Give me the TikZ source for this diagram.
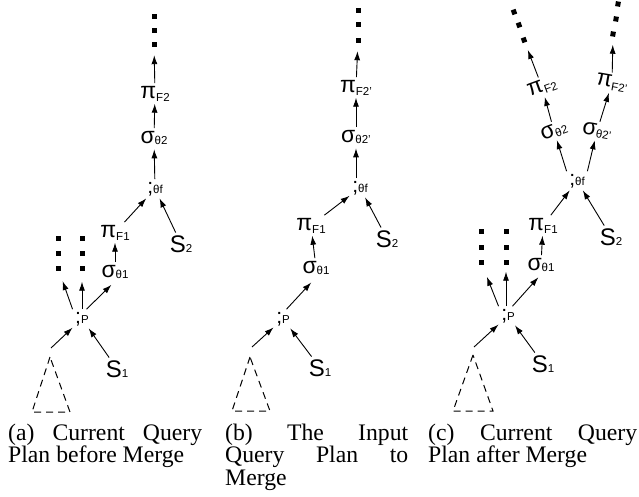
\documentclass[tikz,border=0pt]{standalone}
\usepackage{fontspec}
\setmainfont{Liberation Serif}
\setsansfont{Liberation Sans}
\usetikzlibrary{arrows.meta}
\newcommand\lb[4]{{\fontsize{#1pt}{#1pt}\selectfont #2}\raisebox{-#3pt}{\fontsize{11.5pt}{11.5pt}\selectfont #4}}
\newcommand\pil[1]{\lb{23}{π}{3}{#1}}
\newcommand\sgl[1]{\lb{23}{σ}{1.5}{#1}}
\newcommand\jnl[1]{\lb{21}{;}{0}{#1}}
\newcommand\srl[1]{\lb{24}{S}{0}{#1}}
\begin{document}
\begin{tikzpicture}[x=1pt,y=-1pt,
  lbl/.style={font=\sffamily, inner sep=2.5pt, anchor=base},
  rlbl/.style={font=\sffamily, inner sep=2.5pt, anchor=center},
  sq/.style={fill=black, minimum size=5pt, inner sep=0pt},
  arr/.style={-{Latex[length=9pt,width=6pt]}, line width=0.9pt},
  tri/.style={dash pattern=on 7pt off 5pt, line width=1pt},
  captxt/.style={inner sep=0pt, anchor=base west}
]
\useasboundingbox (0,0) rectangle (639,496);
% ---------------- panel (a)
\node[sq] (aD1) at (154,16) {};
\node[sq] (aD2) at (154,30) {};
\node[sq] (aD3) at (154,44) {};
\node[lbl] (aPF2) at (155,98) {\pil{F2}};
\node[lbl] (aSG2) at (154,143) {\sgl{θ2}};
\node[lbl] (aJ) at (155,193) {\jnl{θf}};
\node[lbl] (aPF1) at (115,237) {\pil{F1}};
\node[lbl] (aS2) at (181,252) {\srl{2}};
\node[lbl] (aSG1) at (115,277) {\sgl{θ1}};
\node[sq] (aL1) at (58,238) {};
\node[sq] (aL2) at (58,253) {};
\node[sq] (aL3) at (58,268) {};
\node[sq] (aM1) at (82,238) {};
\node[sq] (aM2) at (82,253) {};
\node[sq] (aM3) at (82,268) {};
\node[lbl] (aP) at (82,323) {\jnl{P}};
\node[lbl] (aS1) at (117,377) {\srl{1}};
\coordinate (aTa) at (50,357);
\coordinate (aTl) at (32,412);
\coordinate (aTr) at (70,412);
\coordinate (aTt) at (51,348);
\draw[tri] (aTa) -- (aTl) -- (aTr) -- cycle;
\draw[arr, shorten >=8.5pt] (aPF2) -- (aD3);
\draw[arr] (aSG2) -- (aPF2);
\draw[arr, shorten >=2pt] (aJ) -- (aSG2);
\draw[arr] (aPF1) -- (aJ);
\draw[arr] (aS2) -- (aJ);
\draw[arr] (aSG1) -- (aPF1);
\draw[arr, shorten >=11pt] (aP.north west) -- (aL3);
\draw[arr, shorten >=11pt] (aP) -- (aM3);
\draw[arr, shorten >=5pt] (aP.65) -- (aSG1.south);
\draw[arr] (aTt) -- (aP);
\draw[arr] (aS1) -- (aP);
% ---------------- panel (b)
\node[sq] (bD1) at (358,10) {};
\node[sq] (bD2) at (358,24.5) {};
\node[sq] (bD3) at (358,40) {};
\node[lbl] (bPF2) at (356,92) {\pil{F2'}};
\node[lbl] (bSG2) at (356,142) {\sgl{θ2'}};
\node[lbl] (bJ) at (360,192) {\jnl{θf}};
\node[lbl] (bPF1) at (311,230) {\pil{F1}};
\node[lbl] (bS2) at (387,247) {\srl{2}};
\node[lbl] (bSG1) at (316,273) {\sgl{θ1}};
\node[lbl] (bP) at (283,323) {\jnl{P}};
\node[lbl] (bS1) at (320,376) {\srl{1}};
\coordinate (bTa) at (250,357);
\coordinate (bTl) at (232,411);
\coordinate (bTr) at (270,411);
\coordinate (bTt) at (252,347);
\draw[tri] (bTa) -- (bTl) -- (bTr) -- cycle;
\draw[arr, shorten >=8.5pt] (bPF2) -- (bD3);
\draw[arr] (bSG2) -- (bPF2);
\draw[arr, shorten >=2pt] (bJ.north -| bSG2.south) -- (bSG2.south);
\draw[arr] (bPF1) -- (bJ);
\draw[arr] (bS2) -- (bJ);
\draw[arr] (bSG1) -- (bPF1);
\draw[arr, shorten >=7pt] (bP.70) -- (bSG1.south);
\draw[arr] (bTt) -- (bP);
\draw[arr] (bS1) -- (bP);
% ---------------- panel (c)
\node[sq, rotate=20] (cA1) at (514,12) {};
\node[sq, rotate=20] (cA2) at (519,25) {};
\node[sq, rotate=20] (cA3) at (524,40) {};
\node[sq, rotate=-10] (cB1) at (618,4) {};
\node[sq, rotate=-10] (cB2) at (616,19) {};
\node[sq, rotate=-10] (cB3) at (613,34) {};
\node[rlbl, rotate=20] (cPF2L) at (542,87) {\pil{F2}};
\node[rlbl, rotate=20] (cSG2L) at (554,131) {\sgl{θ2}};
\node[rlbl, rotate=-10] (cPF2R) at (612,83) {\pil{F2'}};
\node[rlbl, rotate=-10] (cSG2R) at (597,131) {\sgl{θ2'}};
\node[lbl] (cJ) at (577,185) {\jnl{θf}};
\node[lbl] (cPF1) at (543,230) {\pil{F1}};
\node[lbl] (cS2) at (611,245) {\srl{2}};
\node[lbl] (cSG1) at (541,270) {\sgl{θ1}};
\node[sq] (cL1) at (481,231) {};
\node[sq] (cL2) at (481,247) {};
\node[sq] (cL3) at (481,262) {};
\node[sq] (cM1) at (506,231) {};
\node[sq] (cM2) at (506,247) {};
\node[sq] (cM3) at (506,262) {};
\node[lbl] (cP) at (508,320) {\jnl{P}};
\node[lbl] (cS1) at (543,372) {\srl{1}};
\coordinate (cTa) at (473,355);
\coordinate (cTl) at (453,411);
\coordinate (cTr) at (493,411);
\coordinate (cTt) at (474,347);
\draw[tri] (cTa) -- (cTl) -- (cTr) -- cycle;
\draw[arr, shorten >=8pt] (cPF2L) -- (cA3);
\draw[arr] (cSG2L) -- (cPF2L);
\draw[arr, shorten >=8pt] (cPF2R) -- (cB3);
\draw[arr] (cSG2R) -- (cPF2R);
\draw[arr] (cJ.north west) -- (cSG2L);
\draw[arr] (cJ.north east) -- (cSG2R);
\draw[arr] (cPF1) -- (cJ);
\draw[arr] (cS2) -- (cJ);
\draw[arr] (cSG1) -- (cPF1);
\draw[arr, shorten >=13pt] (cP.north west) -- (cL3);
\draw[arr, shorten >=7pt] (cP.north -| cM3.south) -- (cM3);
\draw[arr, shorten >=4pt] (cP.65) -- (cSG1.south);
\draw[arr] (cTt) -- (cP);
\draw[arr] (cS1) -- (cP);
% ---------------- captions
\node[captxt] (capA) at (8,440) {\parbox[t]{194pt}{\fontsize{23.7pt}{22.5pt}\selectfont (a) Current Query\linebreak Plan before Merge}};
\node[captxt] (capB) at (225,440) {\parbox[t]{183pt}{\fontsize{23.7pt}{22.5pt}\selectfont (b) The Input\linebreak Query Plan to\linebreak Merge}};
\node[captxt] (capC) at (428,440) {\parbox[t]{209pt}{\fontsize{23.7pt}{22.5pt}\selectfont (c) Current Query\linebreak Plan after Merge}};
\end{tikzpicture}
\end{document}
